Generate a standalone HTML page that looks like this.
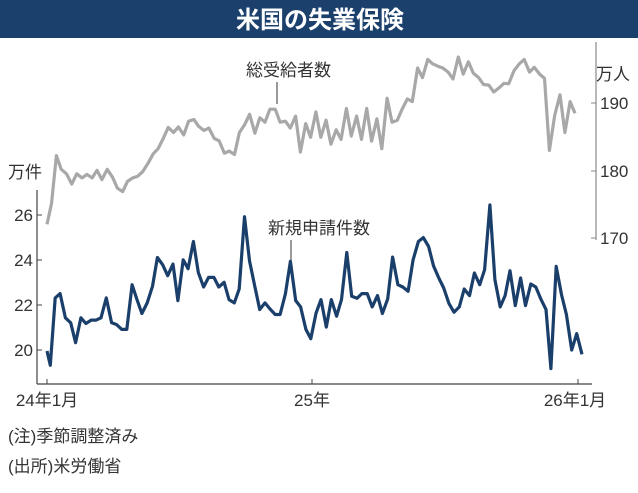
<!DOCTYPE html>
<html><head><meta charset="utf-8"><style>
body{margin:0;background:#fff;}
svg text{font-family:"Liberation Sans","Noto Sans CJK JP",sans-serif;fill:#333;}
</style></head><body>
<svg id="s" width="638" height="488" xmlns="http://www.w3.org/2000/svg">
<rect x="0" y="0" width="638" height="38" fill="#1b406c"/>
<text x="320" y="28" text-anchor="middle" font-size="24" font-weight="bold" style="fill:#fff">米国の失業保険</text>
<line x1="37" y1="190" x2="37" y2="384" stroke="#444" stroke-width="1.2"/>
<line x1="37" y1="384" x2="592" y2="384" stroke="#444" stroke-width="1.2"/>
<line x1="596" y1="42" x2="596" y2="240" stroke="#888" stroke-width="1.2"/>
<g stroke="#444" stroke-width="1">
<line x1="37" y1="215" x2="42" y2="215"/><line x1="37" y1="260" x2="42" y2="260"/>
<line x1="37" y1="305" x2="42" y2="305"/><line x1="37" y1="350" x2="42" y2="350"/>
<line x1="47" y1="379" x2="47" y2="384"/><line x1="312" y1="379" x2="312" y2="384"/><line x1="578" y1="379" x2="578" y2="384"/>
</g>
<g stroke="#888" stroke-width="1">
<line x1="591" y1="103" x2="596" y2="103"/><line x1="591" y1="171" x2="596" y2="171"/><line x1="591" y1="238" x2="596" y2="238"/>
</g>
<g font-size="17">
<text x="33" y="221" text-anchor="end">26</text>
<text x="33" y="266" text-anchor="end">24</text>
<text x="33" y="311" text-anchor="end">22</text>
<text x="33" y="356" text-anchor="end">20</text>
<text x="600" y="109">190</text>
<text x="600" y="177">180</text>
<text x="600" y="244">170</text>
<text x="8" y="178">万件</text>
<text x="596" y="80">万人</text>
<text x="47" y="406" text-anchor="middle">24年1月</text>
<text x="312" y="406" text-anchor="middle">25年</text>
<text x="575" y="406" text-anchor="middle">26年1月</text>
<text x="246" y="76">総受給者数</text>
<text x="268" y="234">新規申請件数</text>
<text x="8" y="442">(注)季節調整済み</text>
<text x="8" y="472">(出所)米労働省</text>
</g>
<line x1="277" y1="82" x2="277" y2="104" stroke="#333" stroke-width="1"/>
<line x1="291" y1="240" x2="291" y2="262" stroke="#333" stroke-width="1"/>
<polyline id="g" fill="none" stroke="#a8a8a8" stroke-width="3.2" stroke-linejoin="round"/>
<polyline id="b" fill="none" stroke="#1b3f6b" stroke-width="3.2" stroke-linejoin="round"/>
</svg>
<script>
var B=[120,455,128,498,140,295,152,282,165,355,178,370,190,430,203,355,215,372,228,362,240,362,252,355,265,295,278,370,290,375,303,390,315,390,328,255,340,300,352,342,365,310,378,260,390,173,403,195,415,228,428,193,440,303,453,180,465,207,478,125,490,218,503,262,515,233,528,233,540,262,553,248,565,300,578,310,590,268,603,50,615,183,628,260,640,330,653,310,665,328,678,345,690,345,703,283,715,185,728,303,740,322,753,390,765,418,778,340,790,300,803,383,815,300,828,350,840,300,853,158,865,290,878,296,890,282,903,282,915,322,928,288,940,342,953,298,965,172,978,255,990,262,1003,275,1015,180,1028,125,1040,113,1053,140,1065,198,1078,235,1090,265,1103,312,1115,338,1128,322,1140,268,1153,288,1165,220,1178,255,1190,210,1203,15,1215,240,1228,322,1240,288,1252,213,1265,318,1278,235,1290,318,1303,253,1315,262,1328,300,1340,330,1352,508,1365,200,1378,285,1390,345,1403,452,1415,403,1428,465];
var G=[117,665,128,605,140,465,152,505,165,518,178,548,190,518,203,530,215,520,228,530,240,508,252,535,265,505,278,528,290,560,303,570,315,540,328,530,340,525,352,512,365,488,378,460,390,445,403,415,415,383,428,398,440,382,453,405,465,365,478,360,490,380,503,392,515,385,528,415,540,422,553,458,565,452,578,462,590,398,603,375,615,345,628,400,640,355,653,368,665,330,678,330,690,368,703,365,715,385,728,350,740,455,753,372,765,412,778,338,790,412,803,362,815,432,828,390,840,418,853,328,865,408,878,350,890,418,903,328,915,423,928,358,940,445,953,298,965,368,978,362,990,330,1003,300,1015,308,1028,210,1040,238,1053,185,1065,198,1078,205,1090,210,1103,222,1115,242,1128,178,1140,228,1153,192,1165,225,1178,238,1190,258,1203,260,1215,280,1228,268,1240,255,1252,256,1265,218,1278,198,1290,185,1303,222,1315,208,1328,228,1340,240,1352,450,1365,348,1378,288,1390,398,1403,308,1415,342];
var pb=[],pg=[];
for(var i=0;i<B.length;i+=2){pb.push((47+(B[i]-120)*0.409).toFixed(1)+','+(215+(B[i+1]-45)*0.3317).toFixed(1));}
for(var i=0;i<G.length;i+=2){pg.push((47+(G[i]-117)*0.4068).toFixed(1)+','+(103+(G[i+1]-312)*0.3435).toFixed(1));}
document.getElementById('b').setAttribute('points',pb.join(' '));
document.getElementById('g').setAttribute('points',pg.join(' '));
</script>
</body></html>
